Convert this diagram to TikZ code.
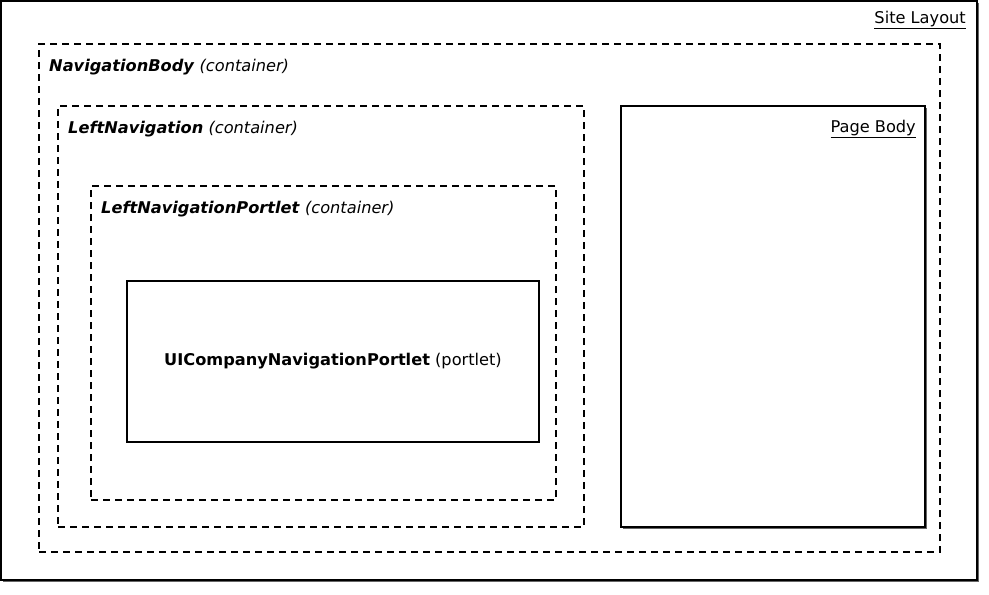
\documentclass[tikz,border=0pt]{standalone}
\usepackage{fontspec}
\setmainfont{DejaVu Sans}
\begin{document}
\begin{tikzpicture}[x=1pt,y=-1pt,
  solidbox/.style={draw=black,line width=1.1pt,inner sep=0pt,outer sep=0pt},
  dashbox/.style={draw=black,line width=1.1pt,dash pattern=on 7pt off 5pt,inner sep=0pt,outer sep=0pt},
  lbl/.style={inner sep=0pt,font=\fontsize{16.2}{18}\selectfont},
  ]
\useasboundingbox (0,0) rectangle (989,595);
% outer with slight shadow
\fill[black!60] (3,3) rectangle (979,582);
\node[solidbox,fill=white,minimum width=976pt,minimum height=579pt,anchor=north west] (site) at (1,1) {};
\node[dashbox,minimum width=901pt,minimum height=508pt,anchor=north west] (navbody) at (39,44) {};
\node[dashbox,minimum width=526pt,minimum height=421pt,anchor=north west] (leftnav) at (58,106) {};
\node[dashbox,minimum width=465pt,minimum height=314pt,anchor=north west] (lnp) at (91,186) {};
\node[solidbox,minimum width=412pt,minimum height=161pt,anchor=north west] (uic) at (127,281) {};
\fill[black!60] (623,108) rectangle (927,529);
\node[solidbox,fill=white,minimum width=304pt,minimum height=421pt,anchor=north west] (pagebody) at (621,106) {};
% labels
\node[lbl,anchor=east] (sitelbl) at (966,20) {\underline{Site Layout}};
\node[lbl,anchor=west] (navlbl) at (49,67) {\textbf{\textit{NavigationBody}} \textit{(container)}};
\node[lbl,anchor=west] (leftlbl) at (68,129) {\textbf{\textit{LeftNavigation}} \textit{(container)}};
\node[lbl,anchor=west] (lnplbl) at (101,209) {\textbf{\textit{LeftNavigationPortlet}} \textit{(container)}};
\node[lbl] (uiclbl) at (uic.center) {\textbf{UICompanyNavigationPortlet} (portlet)};
\node[lbl,anchor=east] (pblbl) at (916,129) {\underline{Page Body}};
\end{tikzpicture}
\end{document}
